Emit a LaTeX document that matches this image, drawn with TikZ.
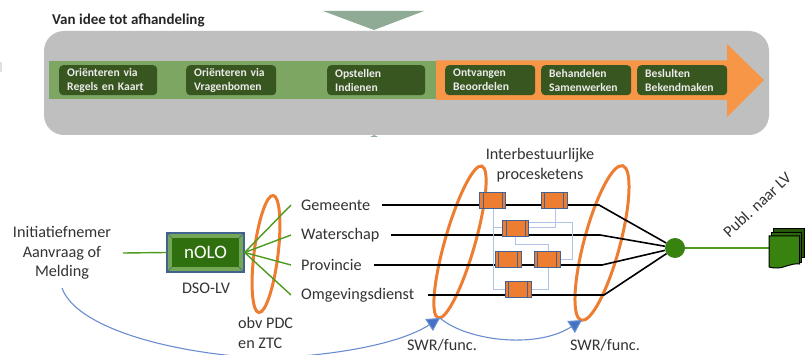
\documentclass[tikz,border=0pt]{standalone}
\usepackage{fontspec}
\setmainfont{Carlito}
\usetikzlibrary{arrows.meta}
\definecolor{greyband}{HTML}{BFBFBF}
\definecolor{greenband}{HTML}{7CA662}
\definecolor{darkgreen}{HTML}{38561F}
\definecolor{bandorange}{HTML}{F79646}
\definecolor{ringorange}{HTML}{ED7D31}
\definecolor{triangle}{HTML}{8FAB96}
\definecolor{nologreen}{HTML}{38830F}
\definecolor{leafgreen}{HTML}{4E9A1E}
\definecolor{edgeblue}{HTML}{44628F}
\definecolor{arcblue}{HTML}{4472C4}
\definecolor{paleblue}{HTML}{AFC4E6}
\definecolor{ink}{HTML}{333333}
\tikzset{
  stagebox/.style={fill=darkgreen,rounded corners=4pt,minimum height=30pt,inner xsep=8pt,inner ysep=0pt,
    text=white!92!black,font=\fontsize{11.6}{14}\selectfont\bfseries,align=left,anchor=north west},
  lab/.style={text=ink,font=\fontsize{16.2}{19.5}\selectfont,inner sep=0pt},
  ring/.style={draw=ringorange,line width=3pt},
  blackline/.style={draw=black,line width=1.6pt},
  greenline/.style={draw=leafgreen,line width=1.4pt},
  paleline/.style={draw=paleblue,line width=1pt},
  arc/.style={draw=arcblue!80!white,line width=1.1pt,-{Triangle[length=13pt,width=14pt,fill=arcblue]}},
  procbox/.style={draw=edgeblue,line width=1pt,fill=ringorange,minimum width=26pt,minimum height=16pt,inner sep=0pt,
    path picture={
      \draw[edgeblue,line width=1pt]
        ([xshift=3.5pt]path picture bounding box.south west)--([xshift=3.5pt]path picture bounding box.north west)
        ([xshift=-3.5pt]path picture bounding box.south east)--([xshift=-3.5pt]path picture bounding box.north east);}},
  nolobox/.style={draw=edgeblue,line width=1.2pt,fill=nologreen!70!white,minimum width=77pt,minimum height=39pt,inner sep=0pt,
    text=white,font=\fontsize{19}{22}\selectfont,
    path picture={
      \fill[nologreen!85!black] ([shift={(5pt,5pt)}]path picture bounding box.south west) rectangle ([shift={(-5pt,-5pt)}]path picture bounding box.north east);
      \draw[edgeblue,line width=.7pt]
        (path picture bounding box.south west)--([shift={(5pt,5pt)}]path picture bounding box.south west)
        (path picture bounding box.north west)--([shift={(5pt,-5pt)}]path picture bounding box.north west)
        (path picture bounding box.south east)--([shift={(-5pt,5pt)}]path picture bounding box.south east)
        (path picture bounding box.north east)--([shift={(-5pt,-5pt)}]path picture bounding box.north east);}},
  hubdot/.style={circle,fill=nologreen,minimum size=20pt,inner sep=0pt},
  sheet/.style={draw=black,line width=1pt}
}
\begin{document}
\begin{tikzpicture}[x=1pt,y=-1pt]
\useasboundingbox (0,0) rectangle (811,355);
\clip (0,0) rectangle (811,355);
\fill[white] (0,0) rectangle (811,355);
% top panel
\fill[black!12] (0,62) rectangle (1.5,72);
\fill[triangle] (323,11) -- (424,11) -- (374,30) -- cycle;
\fill[triangle] (370,137) -- (378,137) -- (374,135) -- cycle;
\fill[greyband,rounded corners=20pt] (44,31) rectangle (769,135);
\fill[greenband] (49,61) rectangle (437,99);
\fill[bandorange] (436,60.5) -- (727,60.5) -- (727,44) -- (764,80) -- (727,117) -- (727,100) -- (436,100) -- cycle;
\node[anchor=west,inner sep=0pt,font=\fontsize{15}{17}\selectfont\bfseries,text=black!85] (title) at (52,20) {Van idee tot afhandeling};
\node[stagebox,text width=82pt] (s1) at (59,65) {Oriënteren via\\Regels en Kaart};
\node[stagebox,text width=74pt] (s2) at (186,65) {Oriënteren via\\Vragenbomen};
\node[stagebox,text width=82pt] (s3) at (327,65) {Opstellen\\Indienen};
\node[stagebox,text width=74pt] (s4) at (445,65) {Ontvangen\\Beoordelen};
\node[stagebox,text width=74pt] (s5) at (541,65) {Behandelen\\Samenwerken};
\node[stagebox,text width=74pt] (s6) at (637,65) {Beslulten\\Bekendmaken};
% rings
\draw[ring,rotate around={-7:(266,254)}] (266,254) ellipse [x radius=12,y radius=59];
\draw[ring,rotate around={-16:(460,242)}] (460,242) ellipse [x radius=15,y radius=79];
\draw[ring,rotate around={-15:(602,243)}] (602,243) ellipse [x radius=18,y radius=80];
% labels
\node[lab,align=center] (init) at (62,253) {Initiatiefnemer\\Aanvraag of\\Melding};
\node[nolobox] (nolo) at (205.5,252.5) {nOLO};
\node[lab] (dso) at (206,288) {DSO-LV};
\node[lab,align=left,anchor=west] (obv) at (238,333) {obv PDC\\en ZTC};
\node[lab,anchor=west] (gem) at (301,205) {Gemeente};
\node[lab,anchor=west] (wat) at (301,235) {Waterschap};
\node[lab,anchor=west] (pro) at (301,265) {Provincie};
\node[lab,anchor=west] (omg) at (301,295) {Omgevingsdienst};
\node[lab,align=center] (inter) at (540,165) {Interbestuurlijke\\procesketens};
\node[lab] (swr1) at (442,345) {SWR/func.};
\node[lab] (swr2) at (605,345) {SWR/func.};
\node[lab,rotate=43] (publ) at (757,205) {Publ. naar LV};
% hub and document
\node[hubdot] (hub) at (675,248) {};
\coordinate (docin) at (769,248);
% green connectors
\draw[greenline] (123,253) -- (nolo.west);
\coordinate (gemin) at (291,205);
\coordinate (watin) at (291,235);
\coordinate (proin) at (291,265);
\coordinate (omgin) at (291,295);
\foreach \t in {gemin,watin,proin,omgin} \draw[greenline] (nolo.east) -- (\t);
\draw[greenline] (hub) -- (docin);
% black process lines
\coordinate (g0) at (382,205); \coordinate (g1) at (599,205);
\coordinate (w0) at (391,235); \coordinate (w1) at (600,235);
\coordinate (p0) at (374,265); \coordinate (p1) at (602,265);
\coordinate (o0) at (428,295); \coordinate (o1) at (604,295);
\draw[blackline] (g0) -- (g1) -- (hub);
\draw[blackline] (w0) -- (w1) -- (hub);
\draw[blackline] (p0) -- (p1) -- (hub);
\draw[blackline] (o0) -- (o1) -- (hub);
% process boxes
\coordinate (b1c) at (492.5,201);
\coordinate (b2c) at (554,201);
\coordinate (b3c) at (515.5,228.5);
\coordinate (b4c) at (508,260);
\coordinate (b5c) at (547,260);
\coordinate (b6c) at (518,290);
% pale connectors
\draw[paleline] (493,209) -- (493,290) -- (505,290);
\draw[paleline] (493,228) -- (502,228);
\draw[paleline] (529,228) -- (555,228) -- (555,209);
\draw[paleline] (529,223) -- (572,223) -- (572,260) -- (560,260);
\draw[paleline] (515,237) -- (515,245) -- (548,245) -- (548,290) -- (531,290);
\node[procbox] (b1) at (b1c) {};
\node[procbox] (b2) at (b2c) {};
\node[procbox] (b3) at (b3c) {};
\node[procbox] (b4) at (b4c) {};
\node[procbox] (b5) at (b5c) {};
\node[procbox] (b6) at (b6c) {};
% document stack
\draw[sheet,fill=nologreen!65!black] (773.5,228.5) rectangle (804.5,258);
\draw[sheet,fill=nologreen!80!black] (771,232.5) rectangle (801,263);
\draw[sheet,fill=nologreen] (769,236) -- (799.5,236) -- (799.5,264) .. controls (790,263) and (785,268) .. (777,268) .. controls (773,268) and (771,267.5) .. (769,267) -- cycle;
% blue arcs
\coordinate (a0) at (62,288);
\coordinate (a1) at (440,318);
\coordinate (a2) at (582,320);
\draw[arc] (a0) .. controls (75,325) and (160,352) .. (260,358) .. controls (300,358) and (390,350) .. (a1);
\draw[arc] (a1) .. controls (465,340) and (535,350) .. (a2);
\end{tikzpicture}
\end{document}
